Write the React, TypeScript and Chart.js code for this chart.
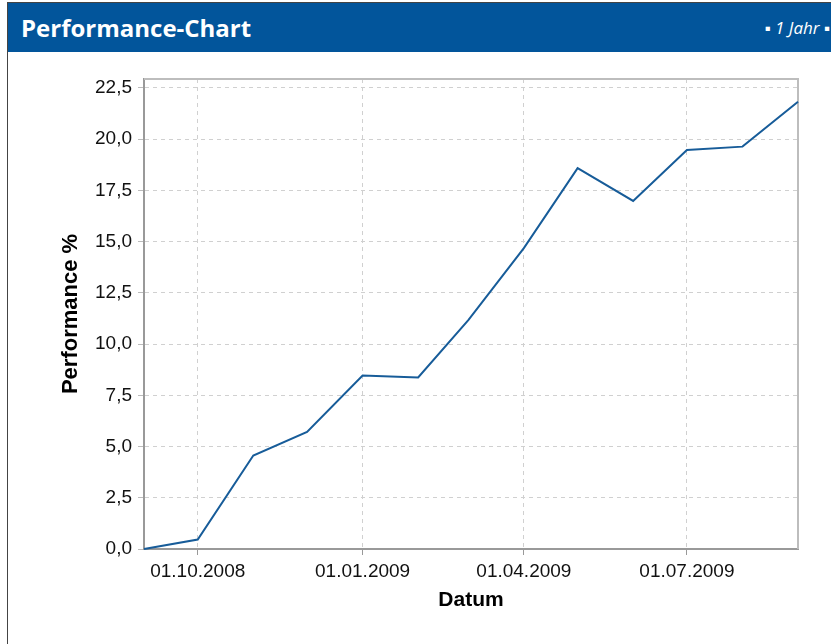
import React, { useEffect, useRef } from "react";
import { Chart, registerables } from "chart.js";

Chart.register(...registerables);

const dates = [
  "2008-09-01", "2008-10-01", "2008-11-01", "2008-12-01", "2009-01-01",
  "2009-02-01", "2009-03-01", "2009-04-01", "2009-05-01", "2009-06-01",
  "2009-07-01", "2009-08-01", "2009-09-01",
];
const performance = [0, 0.46, 4.56, 5.71, 8.46, 8.37, 11.17, 14.68, 18.58, 16.98, 19.47, 19.63, 21.82];
const xTickDates = ["2008-10-01", "2009-01-01", "2009-04-01", "2009-07-01"];
const yTickValues = [0, 2.5, 5, 7.5, 10, 12.5, 15, 17.5, 20, 22.5];
const yMax = 22.93;
const title = "Performance-Chart";
const periodLabel = "▪ 1 Jahr ▪";
const xTitle = "Datum";
const yTitle = "Performance %";

const toDay = (s: string) => {
  const [y, m, d] = s.split("-").map(Number);
  return Date.UTC(y, m - 1, d) / 86400000;
};
const fmtDate = (day: number) => {
  const dt = new Date(day * 86400000);
  const dd = String(dt.getUTCDate()).padStart(2, "0");
  const mm = String(dt.getUTCMonth() + 1).padStart(2, "0");
  return `${dd}.${mm}.${dt.getUTCFullYear()}`;
};

const FONT = "'Liberation Sans', Arial, sans-serif";

const framePlugin = {
  id: "frame",
  beforeDatasetsDraw(chart: any) {
    const { ctx, chartArea } = chart;
    ctx.save();
    ctx.setLineDash([]);
    ctx.strokeStyle = "#bdbdbd";
    ctx.lineWidth = 2;
    ctx.beginPath();
    ctx.moveTo(chartArea.left, chartArea.top);
    ctx.lineTo(chartArea.right, chartArea.top);
    ctx.lineTo(chartArea.right, chartArea.bottom);
    ctx.stroke();
    ctx.restore();
  },
};

export default function App() {
  const canvasRef = useRef<HTMLCanvasElement | null>(null);

  useEffect(() => {
    if (!canvasRef.current) return;
    const points = dates.map((d, i) => ({ x: toDay(d), y: performance[i] }));
    const chart = new Chart(canvasRef.current, {
      type: "line",
      data: {
        datasets: [
          {
            data: points,
            borderColor: "#175c99",
            borderWidth: 2,
            pointRadius: 0,
            tension: 0,
            clip: false as any,
          },
        ],
      },
      plugins: [framePlugin],
      options: {
        animation: false,
        responsive: false,
        maintainAspectRatio: false,
        layout: { padding: { left: 0, top: 27, right: 33, bottom: 0 } },
        plugins: { legend: { display: false }, tooltip: { enabled: false } },
        scales: {
          x: {
            type: "linear",
            min: toDay(dates[0]),
            max: toDay(dates[dates.length - 1]),
            afterBuildTicks: (scale: any) => {
              scale.ticks = xTickDates.map((d) => ({ value: toDay(d) }));
            },
            afterFit: (scale: any) => {
              scale.height = 95;
            },
            ticks: {
              autoSkip: false,
              maxRotation: 0,
              padding: 5,
              color: "#111",
              font: { family: FONT, size: 19 },
              callback: (v: any) => fmtDate(Number(v)),
            },
            grid: {
              color: "#d0d0d0",
              tickColor: "#999",
              tickLength: 6,
              tickBorderDash: [],
              lineWidth: 1,
            } as any,
            border: { color: "#999", width: 2, dash: [4, 4] },
            title: {
              display: true,
              text: xTitle,
              color: "#000",
              font: { family: FONT, size: 21, weight: "bold" },
              padding: { top: 0, bottom: 31 },
            },
          },
          y: {
            type: "linear",
            min: 0,
            max: yMax,
            afterBuildTicks: (scale: any) => {
              scale.ticks = yTickValues.map((v) => ({ value: v }));
            },
            afterFit: (scale: any) => {
              scale.width = 136;
            },
            ticks: {
              padding: 6,
              color: "#111",
              font: { family: FONT, size: 19 },
              callback: (v: any) => Number(v).toFixed(1).replace(".", ","),
            },
            grid: {
              color: "#d0d0d0",
              tickColor: "#bbb",
              tickLength: 6,
              lineWidth: 1,
            } as any,
            border: { color: "#999", width: 2, dash: [4, 4] },
            title: {
              display: true,
              text: yTitle,
              color: "#000",
              font: { family: FONT, size: 22, weight: "bold" },
              padding: { top: 50, bottom: 0 },
            },
          },
        },
      } as any,
    });
    return () => chart.destroy();
  }, []);

  return (
    <div>
      <div
        style={{
          position: "fixed",
          left: 7,
          top: 2,
          width: 840,
          height: 660,
          borderLeft: "1px solid #444",
          borderTop: "1px solid #444",
          background: "#fff",
        }}
      />
      <div
        style={{
          position: "fixed",
          left: 8,
          top: 3,
          width: 823,
          height: 49,
          background: "#02559b",
          color: "#fff",
          fontFamily: "'Open Sans', sans-serif",
        }}
      >
        <div
          style={{
            position: "absolute",
            left: 13,
            top: 0,
            height: 49,
            lineHeight: "49px",
            fontSize: 24,
            fontWeight: 700,
          }}
        >
          {title}
        </div>
        <div
          style={{
            position: "absolute",
            right: 1,
            top: 0,
            height: 49,
            lineHeight: "50px",
            fontSize: 17,
            fontStyle: "italic",
          }}
        >
          {periodLabel}
        </div>
      </div>
      <div style={{ position: "fixed", left: 8, top: 52, width: 823, height: 592 }}>
        <canvas ref={canvasRef} width={823} height={592} style={{ display: "block" }} />
      </div>
    </div>
  );
}
